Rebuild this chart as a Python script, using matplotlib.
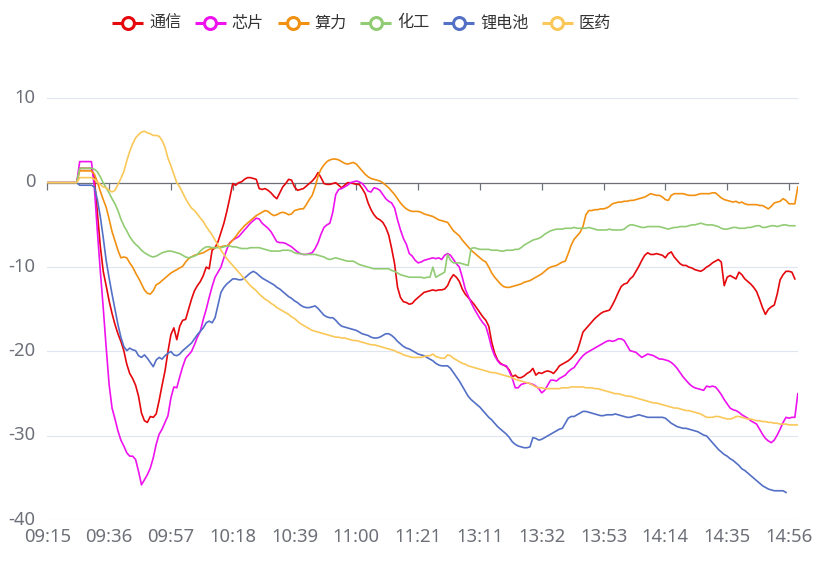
import numpy as np
import matplotlib
matplotlib.use("Agg")
import matplotlib.pyplot as plt
from matplotlib.lines import Line2D
from matplotlib.transforms import ScaledTranslation

plt.rcParams['font.family'] = ['Noto Sans', 'Noto Sans CJK SC', 'DejaVu Sans']
plt.rcParams['axes.unicode_minus'] = False

# ---------------- data ----------------
minutes = list(range(9 * 60 + 15, 11 * 60 + 31)) + list(range(13 * 60, 15 * 60))
times = ["%02d:%02d" % divmod(t, 60) for t in minutes]

series_names = ["通信", "芯片", "算力", "化工", "锂电池", "医药"]
series_colors = ["#e5080d", "#ee12ee", "#f29111", "#91cc75", "#5470c6", "#fac858"]

tongxin = [
    0, 0, 0, 0, 0, 0, 0, 0, 0, 0,
    0, 1.7, 1.7, 1.7, 1.7, 1.7, 0.5, -3.5, -7.5, -10.5,
    -12.2, -14.0, -15.5, -16.8, -17.9, -18.8, -19.9, -21.5, -22.6, -23.2,
    -24.0, -25.3, -27.3, -28.2, -28.4, -27.7, -27.8, -27.4, -25.8, -24.0,
    -22.3, -20.0, -18.0, -17.2, -18.6, -17.0, -16.3, -16.2, -15.0, -13.8,
    -12.8, -12.2, -11.7, -11.0, -10.0, -10.2, -8.0, -7.7, -7.0, -5.9,
    -4.8, -3.4, -1.8, -0.1, -0.3, 0.0, 0.1, 0.4, 0.6, 0.6,
    0.5, 0.4, -0.7, -0.8, -0.7, -0.9, -1.2, -1.6, -1.9, -1.2,
    -0.5, -0.1, 0.4, 0.3, -0.5, -0.9, -0.8, -0.7, -0.4, -0.1,
    0.2, 0.6, 1.2, 0.6, -0.1, -0.2, -0.2, -0.1, 0.0, -0.3,
    -0.6, -0.3, 0.0, 0.0, -0.1, -0.2, -0.2, -0.7, -1.3, -2.4,
    -3.2, -3.8, -4.2, -4.4, -4.7, -5.3, -6.2, -7.8, -9.6, -12.4,
    -13.6, -14.1, -14.2, -14.4, -14.3, -13.9, -13.6, -13.3, -13.0, -12.9,
    -12.8, -12.7, -12.8, -12.7, -12.7, -12.6, -12.2, -11.4, -10.9, -11.2,
    -11.7, -12.6, -13.2, -13.6, -14.0, -14.4, -14.9, -15.4, -15.9, -16.3,
    -17.0, -18.9, -20.2, -21.0, -21.4, -21.6, -21.8, -22.2, -23.0, -22.8,
    -23.1, -23.1, -22.9, -22.6, -22.4, -22.0, -22.8, -22.5, -22.6, -22.4,
    -22.3, -22.4, -22.6, -22.2, -21.7, -21.5, -21.3, -21.1, -20.8, -20.4,
    -20.0, -18.9, -17.7, -17.3, -16.9, -16.5, -16.1, -15.8, -15.5, -15.3,
    -15.2, -15.1, -14.5, -13.8, -13.0, -12.3, -12.0, -11.9, -11.4, -11.1,
    -10.5, -9.9, -9.2, -8.6, -8.3, -8.5, -8.5, -8.4, -8.5, -8.6,
    -8.9, -8.4, -8.2, -8.8, -9.2, -9.6, -9.8, -9.8, -10.0, -10.1,
    -10.3, -10.4, -10.5, -10.3, -10.0, -9.8, -9.5, -9.3, -9.1, -9.4,
    -12.2, -11.2, -11.0, -11.2, -11.4, -10.6, -10.9, -11.4, -11.7, -12.0,
    -12.4, -12.9, -13.8, -14.8, -15.6, -15.0, -14.7, -14.5, -13.2, -11.5,
    -10.9, -10.5, -10.5, -10.6, -11.4,
]

xinpian = [
    0, 0, 0, 0, 0, 0, 0, 0, 0, 0,
    0, 2.5, 2.5, 2.5, 2.5, 2.5, -0.6, -5.7, -10.4, -14.8,
    -19.5, -23.9, -26.7, -28.0, -29.4, -30.5, -31.2, -32.0, -32.4, -32.4,
    -32.8, -34.2, -35.8, -35.2, -34.6, -33.8, -32.6, -31.0, -29.8, -29.2,
    -28.4, -27.6, -25.5, -24.2, -24.3, -23.0, -21.8, -20.8, -20.4, -20.0,
    -19.2, -18.3, -17.6, -16.2, -15.0, -13.6, -12.3, -11.2, -10.6, -10.0,
    -8.9, -7.9, -7.1, -6.8, -6.6, -6.4, -6.0, -5.6, -5.2, -4.8,
    -4.5, -4.2, -4.3, -4.8, -5.1, -5.4, -5.8, -6.4, -7.0, -7.1,
    -7.1, -7.2, -7.4, -7.6, -7.9, -8.2, -8.4, -8.5, -8.5, -8.4,
    -8.3, -7.8, -7.1, -6.1, -5.3, -5.0, -4.8, -3.5, -1.4, -0.8,
    -0.7, -0.5, -0.3, 0.0, 0.1, 0.2, 0.1, -0.1, -0.5, -1.0,
    -1.1, -0.6, -0.7, -0.9, -1.4, -1.9, -2.2, -2.4, -3.0, -4.4,
    -5.6, -6.6, -7.3, -8.4, -8.7, -9.2, -9.5, -9.4, -9.2, -9.1,
    -9.0, -8.9, -9.0, -8.9, -9.1, -8.6, -8.4, -8.6, -9.1, -9.6,
    -10.0, -11.2, -12.6, -13.4, -14.2, -14.9, -15.5, -16.1, -16.6, -17.0,
    -18.2, -19.6, -20.5, -21.1, -21.5, -21.6, -21.7, -22.4, -23.2, -24.3,
    -24.3, -23.9, -23.8, -23.7, -23.8, -23.9, -24.1, -24.4, -24.9, -24.6,
    -24.0, -23.4, -23.4, -23.5, -23.2, -23.0, -22.8, -22.4, -22.1, -21.9,
    -21.4, -20.9, -20.5, -20.2, -20.0, -19.8, -19.6, -19.4, -19.2, -19.0,
    -18.8, -18.7, -18.8, -18.7, -18.5, -18.5, -18.7, -19.3, -19.9, -20.0,
    -20.1, -20.4, -20.7, -20.5, -20.3, -20.4, -20.5, -20.7, -20.9, -20.9,
    -21.0, -21.1, -21.3, -21.6, -22.0, -22.5, -23.0, -23.4, -23.8, -24.1,
    -24.3, -24.4, -24.5, -24.6, -24.1, -24.2, -24.1, -24.2, -24.6, -25.1,
    -25.7, -26.2, -26.7, -26.9, -27.0, -27.2, -27.5, -27.7, -27.9, -28.2,
    -28.4, -28.6, -29.2, -29.8, -30.3, -30.6, -30.8, -30.5, -29.9, -29.2,
    -28.4, -27.8, -27.9, -27.8, -27.8, -25.0,
]

suanli = [
    0, 0, 0, 0, 0, 0, 0, 0, 0, 0,
    0, 1.4, 1.4, 1.4, 1.4, 1.4, 1.0, 0.1, -1.0, -2.0,
    -2.9, -4.3, -5.8, -6.9, -8.0, -8.9, -8.8, -8.9, -9.5, -10.0,
    -10.7, -11.3, -12.0, -12.7, -13.1, -13.2, -12.8, -12.1, -11.9, -11.6,
    -11.3, -11.0, -10.7, -10.5, -10.3, -10.1, -9.9, -9.4, -9.0, -8.8,
    -8.6, -8.5, -8.4, -8.3, -8.1, -7.9, -7.8, -7.7, -7.6, -7.6,
    -7.5, -7.5, -7.2, -6.8, -6.4, -5.9, -5.5, -5.1, -4.8, -4.5,
    -4.2, -3.9, -3.7, -3.5, -3.3, -3.4, -3.7, -3.9, -3.8, -3.6,
    -3.5, -3.6, -3.8, -3.7, -3.3, -3.2, -3.1, -3.1, -2.6, -2.0,
    -1.5, -0.5, 0.8, 1.6, 2.1, 2.5, 2.7, 2.8, 2.8, 2.7,
    2.5, 2.3, 2.2, 2.3, 2.4, 2.2, 1.8, 1.4, 1.0, 0.7,
    0.5, 0.4, 0.3, 0.2, 0.0, -0.3, -0.6, -1.0, -1.4, -1.9,
    -2.4, -2.8, -3.1, -3.3, -3.4, -3.4, -3.4, -3.5, -3.7, -3.8,
    -3.9, -4.0, -4.2, -4.4, -4.5, -4.6, -4.7, -5.2, -5.7, -6.0,
    -6.3, -6.8, -7.2, -7.6, -8.0, -8.3, -8.6, -8.9, -9.2, -9.4,
    -10.0, -10.7, -11.2, -11.6, -12.0, -12.3, -12.4, -12.4, -12.3, -12.2,
    -12.1, -12.0, -11.8, -11.7, -11.6, -11.4, -11.2, -11.0, -10.8, -10.5,
    -10.2, -10.0, -9.9, -9.8, -9.6, -9.4, -9.3, -8.4, -7.4, -6.7,
    -6.3, -5.9, -5.2, -3.8, -3.3, -3.3, -3.2, -3.2, -3.1, -3.1,
    -3.0, -2.8, -2.5, -2.4, -2.3, -2.3, -2.2, -2.2, -2.1, -2.1,
    -2.0, -1.9, -1.8, -1.7, -1.5, -1.3, -1.4, -1.5, -1.5, -1.7,
    -2.0, -2.1, -1.5, -1.3, -1.3, -1.3, -1.3, -1.4, -1.5, -1.5,
    -1.5, -1.4, -1.3, -1.3, -1.3, -1.3, -1.2, -1.2, -1.5, -1.8,
    -2.0, -2.1, -2.2, -2.3, -2.2, -2.4, -2.3, -2.5, -2.6, -2.6,
    -2.6, -2.6, -2.7, -2.7, -2.9, -3.1, -2.8, -2.4, -2.3, -2.2,
    -1.9, -2.1, -2.5, -2.5, -2.5, -0.5,
]

huagong = [
    0, 0, 0, 0, 0, 0, 0, 0, 0, 0,
    0, 1.7, 1.7, 1.7, 1.7, 1.7, 1.6, 1.3, 0.7, 0.0,
    -0.6, -1.2, -1.9, -2.5, -3.3, -4.3, -5.1, -5.7, -6.4, -6.9,
    -7.3, -7.6, -8.0, -8.3, -8.5, -8.7, -8.8, -8.7, -8.5, -8.3,
    -8.2, -8.1, -8.1, -8.2, -8.3, -8.4, -8.6, -8.8, -8.9, -8.8,
    -8.7, -8.5, -8.1, -7.8, -7.6, -7.6, -7.7, -7.7, -7.7, -7.7,
    -7.6, -7.5, -7.5, -7.6, -7.6, -7.7, -7.8, -7.8, -7.8, -7.7,
    -7.7, -7.7, -7.7, -7.8, -7.9, -8.0, -8.1, -8.1, -8.1, -8.1,
    -8.0, -8.0, -8.0, -8.1, -8.3, -8.4, -8.4, -8.5, -8.5, -8.5,
    -8.5, -8.5, -8.6, -8.7, -8.8, -9.0, -9.1, -9.0, -8.9, -9.0,
    -9.1, -9.2, -9.3, -9.3, -9.3, -9.5, -9.7, -9.8, -9.9, -10.0,
    -10.1, -10.2, -10.2, -10.2, -10.2, -10.2, -10.2, -10.4, -10.5, -10.7,
    -10.9, -11.0, -11.1, -11.2, -11.2, -11.2, -11.2, -11.2, -11.3, -11.2,
    -11.2, -10.0, -11.2, -11.0, -10.8, -10.6, -8.5, -9.2, -9.5, -9.5,
    -9.5, -9.6, -9.7, -9.8, -7.8, -7.7, -7.8, -7.9, -7.9, -7.9,
    -7.9, -8.0, -8.0, -8.0, -8.1, -8.1, -8.0, -8.0, -8.0, -7.9,
    -7.9, -7.7, -7.4, -7.2, -7.0, -6.8, -6.7, -6.6, -6.4, -6.1,
    -5.9, -5.7, -5.6, -5.5, -5.5, -5.5, -5.4, -5.4, -5.4, -5.3,
    -5.4, -5.4, -5.4, -5.4, -5.3, -5.4, -5.5, -5.6, -5.6, -5.6,
    -5.6, -5.5, -5.6, -5.6, -5.6, -5.6, -5.5, -5.2, -5.0, -5.0,
    -5.1, -5.2, -5.3, -5.3, -5.2, -5.2, -5.2, -5.2, -5.2, -5.3,
    -5.4, -5.5, -5.4, -5.3, -5.3, -5.2, -5.2, -5.2, -5.1, -5.0,
    -5.0, -4.9, -4.8, -4.9, -5.0, -5.0, -5.0, -5.1, -5.2, -5.4,
    -5.5, -5.5, -5.4, -5.3, -5.3, -5.4, -5.4, -5.4, -5.3, -5.3,
    -5.2, -5.1, -5.1, -5.3, -5.3, -5.2, -5.1, -5.1, -5.2, -5.1,
    -5.0, -5.0, -5.1, -5.1, -5.1,
]

lidianchi = [
    0, 0, 0, 0, 0, 0, 0, 0, 0, 0,
    0, -0.3, -0.3, -0.3, -0.3, -0.3, -0.5, -2.0, -4.0, -6.5,
    -9.2, -11.3, -13.2, -15.0, -16.8, -18.3, -19.4, -19.9, -19.6, -19.8,
    -19.9, -20.5, -20.7, -20.4, -20.8, -21.3, -21.8, -21.0, -20.7, -20.9,
    -20.5, -20.2, -20.0, -20.4, -20.5, -20.3, -19.9, -19.6, -19.3, -19.0,
    -18.5, -18.0, -17.6, -17.2, -16.6, -16.4, -16.6, -16.0, -14.5, -13.0,
    -12.4, -12.0, -11.7, -11.4, -11.4, -11.5, -11.5, -11.3, -11.0, -10.7,
    -10.5, -10.7, -11.0, -11.3, -11.5, -11.7, -11.9, -12.1, -12.4, -12.6,
    -12.9, -13.2, -13.5, -13.7, -14.0, -14.2, -14.5, -14.7, -14.8, -14.8,
    -14.7, -14.6, -14.9, -15.3, -15.7, -15.9, -16.0, -16.0, -16.3, -16.7,
    -17.0, -17.1, -17.2, -17.3, -17.4, -17.5, -17.7, -17.9, -18.0, -18.1,
    -18.3, -18.4, -18.4, -18.3, -18.1, -17.9, -17.9, -18.1, -18.4, -18.8,
    -19.1, -19.4, -19.6, -19.7, -19.9, -20.1, -20.3, -20.4, -20.5, -20.7,
    -20.9, -21.1, -21.4, -21.6, -21.7, -21.7, -21.7, -22.0, -22.5, -23.0,
    -23.5, -24.1, -24.7, -25.3, -25.7, -26.0, -26.3, -26.6, -27.0, -27.4,
    -27.8, -28.1, -28.5, -28.9, -29.2, -29.5, -29.8, -30.2, -30.7, -31.0,
    -31.2, -31.3, -31.4, -31.4, -31.3, -30.2, -30.3, -30.5, -30.4, -30.2,
    -30.0, -29.8, -29.6, -29.4, -29.2, -29.1, -28.5, -27.9, -27.7, -27.7,
    -27.5, -27.3, -27.1, -27.1, -27.2, -27.3, -27.4, -27.5, -27.6, -27.6,
    -27.5, -27.5, -27.5, -27.4, -27.5, -27.6, -27.7, -27.8, -27.8, -27.7,
    -27.6, -27.5, -27.6, -27.7, -27.8, -27.8, -27.8, -27.8, -27.8, -27.8,
    -27.9, -28.2, -28.5, -28.7, -28.9, -29.0, -29.1, -29.1, -29.2, -29.3,
    -29.4, -29.5, -29.7, -29.9, -30.0, -30.4, -30.8, -31.2, -31.6, -31.9,
    -32.2, -32.4, -32.7, -32.9, -33.2, -33.5, -33.9, -34.1, -34.4, -34.7,
    -35.0, -35.3, -35.6, -35.9, -36.1, -36.3, -36.4, -36.5, -36.5, -36.5,
    -36.5, -36.7,
]

yiyao = [
    0, 0, 0, 0, 0, 0, 0, 0, 0, 0,
    0, 0.6, 0.6, 0.6, 0.6, 0.6, 0.4, 0.1, -0.2, -0.5,
    -0.6, -0.9, -1.1, -0.9, -0.2, 0.5, 1.3, 2.6, 3.7, 4.6,
    5.3, 5.7, 6.0, 6.1, 5.9, 5.8, 5.6, 5.6, 5.5, 5.0,
    4.2, 2.9, 2.0, 1.0, 0.0, -0.5, -1.2, -1.9, -2.5, -3.0,
    -3.3, -3.7, -4.2, -4.6, -5.2, -5.7, -6.2, -6.8, -7.4, -8.0,
    -8.5, -9.0, -9.4, -9.8, -10.2, -10.6, -11.0, -11.4, -11.8, -12.2,
    -12.5, -12.8, -13.2, -13.5, -13.8, -14.0, -14.3, -14.5, -14.8, -15.0,
    -15.2, -15.4, -15.6, -15.9, -16.1, -16.4, -16.7, -16.9, -17.1, -17.3,
    -17.5, -17.6, -17.7, -17.8, -17.9, -18.0, -18.1, -18.2, -18.3, -18.3,
    -18.4, -18.4, -18.5, -18.6, -18.7, -18.7, -18.8, -18.9, -19.0, -19.1,
    -19.2, -19.2, -19.3, -19.4, -19.5, -19.6, -19.7, -19.8, -19.9, -20.1,
    -20.2, -20.4, -20.5, -20.6, -20.7, -20.7, -20.7, -20.7, -20.6, -20.5,
    -20.5, -20.3, -20.6, -20.7, -20.8, -20.8, -20.4, -20.5, -20.8, -21.0,
    -21.2, -21.4, -21.5, -21.7, -21.8, -21.9, -22.0, -22.1, -22.2, -22.3,
    -22.4, -22.5, -22.5, -22.6, -22.7, -22.8, -22.9, -23.0, -23.1, -23.3,
    -23.4, -23.5, -23.6, -23.7, -23.8, -24.0, -24.2, -24.3, -24.3, -24.4,
    -24.4, -24.4, -24.4, -24.4, -24.4, -24.3, -24.3, -24.3, -24.2, -24.2,
    -24.2, -24.2, -24.2, -24.3, -24.3, -24.3, -24.4, -24.4, -24.5, -24.6,
    -24.7, -24.8, -24.9, -25.0, -25.0, -25.1, -25.2, -25.3, -25.3, -25.4,
    -25.5, -25.6, -25.7, -25.8, -25.9, -26.0, -26.1, -26.1, -26.2, -26.3,
    -26.4, -26.5, -26.6, -26.7, -26.7, -26.8, -26.9, -27.0, -27.0, -27.1,
    -27.2, -27.3, -27.4, -27.6, -27.8, -27.8, -27.8, -27.7, -27.7, -27.8,
    -27.9, -28.0, -28.0, -27.9, -27.7, -27.7, -27.8, -27.9, -28.0, -28.0,
    -28.1, -28.2, -28.2, -28.3, -28.3, -28.4, -28.4, -28.5, -28.5, -28.6,
    -28.6, -28.6, -28.7, -28.7, -28.7, -28.7,
]

series_values = [tongxin, xinpian, suanli, huagong, lidianchi, yiyao]

label_step = 21
y_ticks = [-40, -30, -20, -10, 0, 10]
y_tick_labels = ["-40", "-30", "-20", "-10", "0", "10"]

# ---------------- figure ----------------
W, H = 825, 576
fig = plt.figure(figsize=(W / 100, H / 100), dpi=100)
ax_left, ax_right, ax_top, ax_bot = 47.3, 797.8, 98.3, 520.3
ax = fig.add_axes([ax_left / W, 1 - ax_bot / H, (ax_right - ax_left) / W, (ax_bot - ax_top) / H])

x_all = np.arange(len(times))
for name, vals, col in zip(series_names, series_values, series_colors):
    ax.plot(x_all[:len(vals)], vals, color=col, lw=1.2, zorder=3,
            solid_joinstyle='round')

ax.set_xlim(0, len(times) - 1)
ax.set_ylim(-40, 10)
ax.set_yticks(y_ticks)
ax.set_yticklabels(y_tick_labels)
ax.grid(axis='y', color='#e0e6f1', lw=0.8, zorder=0)
ax.set_axisbelow(True)

for s in ['left', 'right', 'top']:
    ax.spines[s].set_visible(False)
ax.spines['bottom'].set_position(('data', 0))
ax.spines['bottom'].set_color('#6e7079')
ax.spines['bottom'].set_linewidth(0.9)
ax.spines['bottom'].set_zorder(2)

tick_pos = list(range(0, len(times), label_step))
ax.set_xticks(tick_pos)
ax.tick_params(axis='x', direction='out', length=5, width=0.9, color='#6e7079',
               labelbottom=False)
ax.tick_params(axis='y', length=0, pad=8.6, labelsize=13.3, labelcolor='#6e7079')
# lift the y labels a touch, as in the reference
up = ScaledTranslation(0, 2.5 / 100, fig.dpi_scale_trans)
for lab in ax.get_yticklabels():
    lab.set_transform(lab.get_transform() + up)

sec = ax.secondary_xaxis(0)
sec.set_xticks(tick_pos)
sec.set_xticklabels([times[i] for i in tick_pos])
sec.tick_params(length=0, pad=5.5, labelsize=13.3, labelcolor='#6e7079')
for s in sec.spines.values():
    s.set_visible(False)

# ---------------- legend (ECharts style) ----------------
renderer = fig.canvas.get_renderer()
x0 = 112.0
yc = 23.0
icon_w = 31.0
for name, col in zip(series_names, series_colors):
    fy = 1 - yc / H
    fig.add_artist(Line2D([x0 / W, (x0 + icon_w) / W], [fy, fy], color=col, lw=2.2,
                          transform=fig.transFigure, solid_capstyle='butt'))
    fig.add_artist(Line2D([(x0 + icon_w / 2) / W], [fy], marker='o', markersize=8.6,
                          markerfacecolor='white', markeredgecolor=col,
                          markeredgewidth=2.2, transform=fig.transFigure))
    t = fig.text((x0 + icon_w + 6) / W, fy, name, fontsize=11.6, color='#333333',
                 va='center', ha='left', family=['Noto Sans CJK SC', 'DejaVu Sans'])
    bb = t.get_window_extent(renderer)
    x0 = bb.x1 + 13.5

fig.savefig("out.png", dpi=100)
